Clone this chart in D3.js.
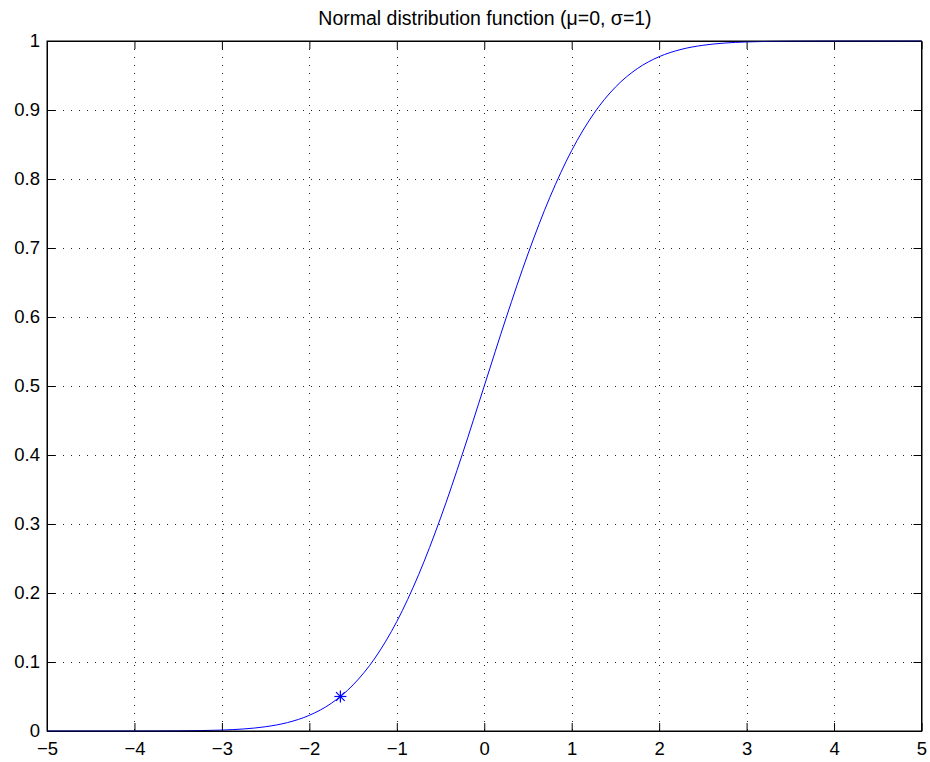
<!DOCTYPE html>
<html><head><meta charset="utf-8">
<script src="https://cdn.jsdelivr.net/npm/d3@7"></script>
<style>body{margin:0;background:#fff}svg{display:block}text{font-family:"Liberation Sans",Arial,sans-serif}</style>
</head><body><svg id="c" width="930" height="762"></svg>
<script>
const title = "Normal distribution function (\u03bc=0, \u03c3=1)";
const xValues = [-5,-4.75,-4.5,-4.25,-4,-3.75,-3.5,-3.25,-3,-2.75,-2.5,-2.25,-2,-1.75,-1.5,-1.25,-1,-0.75,-0.5,-0.25,0,0.25,0.5,0.75,1,1.25,1.5,1.75,2,2.25,2.5,2.75,3,3.25,3.5,3.75,4,4.25,4.5,4.75,5];
const yValues = [0,0.000001,0.000003,0.000011,0.000032,0.000088,0.000233,0.000577,0.00135,0.00298,0.00621,0.01222,0.02275,0.04006,0.06681,0.10565,0.15866,0.22663,0.30854,0.40129,0.5,0.59871,0.69146,0.77337,0.84134,0.89435,0.93319,0.95994,0.97725,0.98778,0.99379,0.99702,0.99865,0.99942,0.99977,0.99991,0.99997,0.99999,1,1,1];
const markerX = [-1.645];
const markerY = [0.05];
const xTicks = [-5,-4,-3,-2,-1,0,1,2,3,4,5];
const yTicks = [0,0.1,0.2,0.3,0.4,0.5,0.6,0.7,0.8,0.9,1];

const svg = d3.select("#c");
const L=47, R=921.5, T=41, B=731;
const x = d3.scaleLinear().domain([-5,5]).range([L,R]);
const y = d3.scaleLinear().domain([0,1]).range([B,T]);
const fmt = d => (d<0?"\u2212":"")+Math.abs(d);

// grid
const g = svg.append("g").attr("stroke","#222").attr("stroke-width",1).attr("stroke-dasharray","1,7");
xTicks.slice(1,-1).forEach(t=>g.append("line").attr("x1",Math.round(x(t))+0.5).attr("x2",Math.round(x(t))+0.5).attr("y1",T).attr("y2",B));
yTicks.slice(1,-1).forEach(t=>g.append("line").attr("y1",Math.round(y(t))+0.5).attr("y2",Math.round(y(t))+0.5).attr("x1",L).attr("x2",R));

// axes with inward ticks
const tick=8;
const axB = svg.append("g").attr("transform",`translate(0,${B})`).call(d3.axisBottom(x).tickValues(xTicks).tickFormat(fmt).tickSizeInner(-tick).tickSizeOuter(0).tickPadding(24));
const axT = svg.append("g").attr("transform",`translate(0,${T})`).call(d3.axisTop(x).tickValues(xTicks).tickFormat("").tickSizeInner(-tick).tickSizeOuter(0));
const axL = svg.append("g").attr("transform",`translate(${L},0)`).call(d3.axisLeft(y).tickValues(yTicks).tickFormat(d=>d3.format("")(+d.toFixed(1))).tickSizeInner(-tick).tickSizeOuter(0).tickPadding(7));
const axR = svg.append("g").attr("transform",`translate(${R},0)`).call(d3.axisRight(y).tickValues(yTicks).tickFormat("").tickSizeInner(-tick).tickSizeOuter(0));
[axB,axT,axL,axR].forEach(a=>{a.selectAll("text").attr("font-size",18.5).attr("fill","#000").attr("font-family","Liberation Sans, Arial, sans-serif");a.selectAll("line,path").attr("stroke","#000");});
axB.selectAll("text").attr("dy","0");

// curve
const pts = xValues.map((v,i)=>[v,yValues[i]]);
svg.append("path").datum(pts).attr("fill","none").attr("stroke","#0000ff").attr("stroke-width",1)
  .attr("d",d3.line().x(d=>x(d[0])).y(d=>y(d[1])).curve(d3.curveMonotoneX));

// marker
markerX.forEach((mx,i)=>{
  const cx=x(mx), cy=y(markerY[i]), r=6;
  const m=svg.append("g").attr("stroke","#0000ff").attr("stroke-width",1.2);
  m.append("line").attr("x1",cx-r).attr("x2",cx+r).attr("y1",cy).attr("y2",cy);
  m.append("line").attr("x1",cx).attr("x2",cx).attr("y1",cy-r).attr("y2",cy+r);
  const d=r*0.72;
  m.append("line").attr("x1",cx-d).attr("x2",cx+d).attr("y1",cy-d).attr("y2",cy+d);
  m.append("line").attr("x1",cx-d).attr("x2",cx+d).attr("y1",cy+d).attr("y2",cy-d);
});

// box
svg.append("rect").attr("x",L).attr("y",T).attr("width",R-L).attr("height",B-T).attr("fill","none").attr("stroke","#000").attr("stroke-width",1);

// title
svg.append("text").attr("x",485).attr("y",25).attr("text-anchor","middle").attr("font-size",19.5).attr("fill","#000").text(title);
</script></body></html>
